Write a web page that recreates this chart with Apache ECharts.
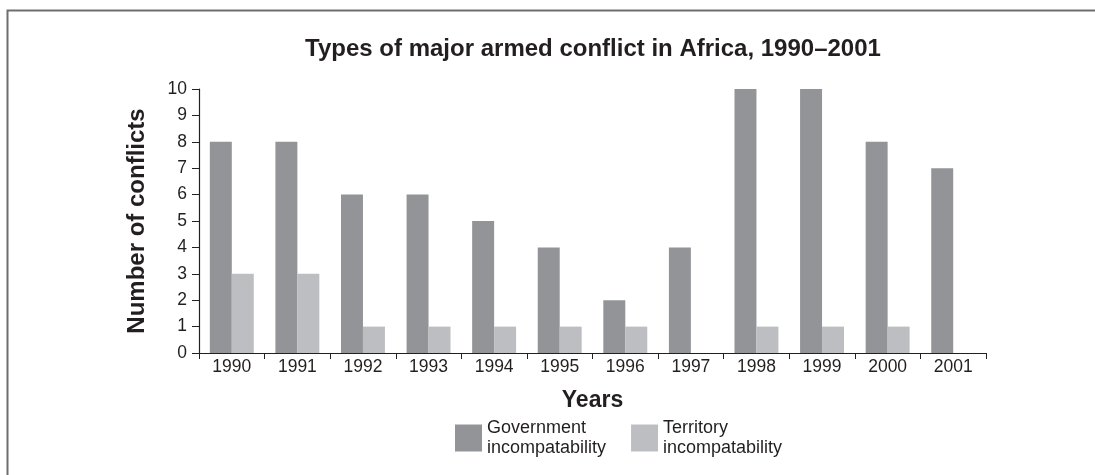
<!DOCTYPE html>
<html>
<head>
<meta charset="utf-8">
<script src="https://cdn.jsdelivr.net/npm/echarts@6/dist/echarts.min.js"></script>
<style>
  html, body { margin: 0; padding: 0; background: #fff; }
  #main { width: 1095px; height: 475px; }
</style>
</head>
<body>
<div id="main"></div>
<script>
var years = ['1990', '1991', '1992', '1993', '1994', '1995', '1996', '1997', '1998', '1999', '2000', '2001'];
var government = [8, 8, 6, 6, 5, 4, 2, 4, 10, 10, 8, 7];
var territory = [3, 3, 1, 1, 1, 1, 1, 0, 1, 1, 1, 0];
var yTicks = [0, 10, 1];

var ink = '#231f20';
var myChart = echarts.init(document.getElementById('main'));
var option = {
    animation: false,
    title: {
        text: 'Types of major armed conflict in Africa, 1990–2001',
        left: 588,
        textAlign: 'center',
        top: 32,
        textStyle: { fontFamily: 'Liberation Sans', fontSize: 24, fontWeight: 'bold', color: ink }
    },
    graphic: [{
        type: 'rect',
        shape: { x: 7.5, y: 10.5, width: 1200, height: 600 },
        style: { fill: 'none', stroke: '#6d6e70', lineWidth: 2 },
        silent: true
    }],
    legend: {
        left: 450,
        top: 413,
        icon: 'rect',
        itemWidth: 27,
        itemHeight: 27,
        itemGap: 25,
        textStyle: { fontFamily: 'Liberation Sans', fontSize: 18, color: ink, lineHeight: 20 },
        formatter: function (name) {
            return name.replace(' ', '\n');
        },
        data: ['Government incompatability', 'Territory incompatability']
    },
    grid: { left: 199, right: 109, top: 89, bottom: 122 },
    xAxis: {
        type: 'category',
        data: years,
        name: 'Years',
        nameLocation: 'middle',
        nameGap: 36,
        nameTextStyle: { fontFamily: 'Liberation Sans', fontSize: 23, fontWeight: 'bold', color: ink },
        axisLine: { lineStyle: { color: ink, width: 1.2 } },
        axisTick: { show: true, length: 6, lineStyle: { color: ink } },
        axisLabel: { fontFamily: 'Liberation Sans', fontSize: 17.5, color: ink, margin: 5 }
    },
    yAxis: {
        type: 'value',
        min: yTicks[0],
        max: yTicks[1],
        interval: yTicks[2],
        name: 'Number of conflicts',
        nameLocation: 'middle',
        nameGap: 50,
        nameTextStyle: { fontFamily: 'Liberation Sans', fontSize: 24, fontWeight: 'bold', color: ink },
        axisLine: { show: true, lineStyle: { color: ink, width: 1.2 } },
        axisTick: { show: true, length: 7, lineStyle: { color: ink } },
        axisLabel: { fontFamily: 'Liberation Sans', fontSize: 17.5, color: ink, margin: 12 },
        splitLine: { show: false }
    },
    series: [
        {
            name: 'Government incompatability',
            type: 'bar',
            data: government,
            barGap: '0%',
            barCategoryGap: '33%',
            itemStyle: { color: '#939497' }
        },
        {
            name: 'Territory incompatability',
            type: 'bar',
            data: territory,
            itemStyle: { color: '#bdbec1' }
        }
    ]
};
myChart.setOption(option);
</script>
</body>
</html>
